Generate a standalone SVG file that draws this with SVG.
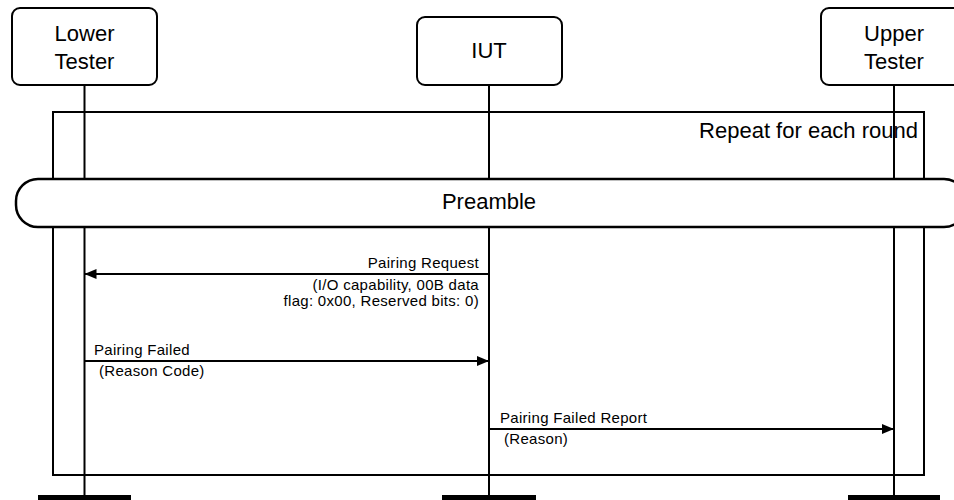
<svg xmlns="http://www.w3.org/2000/svg" width="954" height="500" viewBox="0 0 954 500">
<defs>
<style>
.box{fill:#fff;stroke:#000;stroke-width:2}
.ll{stroke:#000;stroke-width:2;fill:none}
.big{font-family:"Liberation Sans",Arial,sans-serif;font-size:22px;fill:#000}
.sm{font-family:"Liberation Sans",Arial,sans-serif;font-size:15px;letter-spacing:0.3px;fill:#000}
.msg{stroke:#000;stroke-width:2;fill:none}
</style>
<marker id="ah" viewBox="0 0 12 10" refX="12" refY="5" markerWidth="12" markerHeight="10" markerUnits="userSpaceOnUse" orient="auto">
<path d="M0,0 L12,5 L0,10 Z" fill="#000"/>
</marker>
</defs>
<rect width="954" height="500" fill="#fff"/>
<g id="frame">
<rect x="53" y="112" width="871" height="363" fill="none" stroke="#000" stroke-width="2"/>
<text class="big" x="918" y="138" text-anchor="end" font-size="24">Repeat for each round</text>
</g>
<g id="lifelines">
<line class="ll" x1="84.5" y1="85" x2="84.5" y2="500"/>
<line class="ll" x1="489" y1="85" x2="489" y2="500"/>
<line class="ll" x1="894" y1="85" x2="894" y2="500"/>
<rect x="38" y="495" width="93" height="5" fill="#000"/>
<rect x="442" y="495" width="94" height="5" fill="#000"/>
<rect x="848" y="495" width="92" height="5" fill="#000"/>
</g>
<g id="lower-tester">
<rect class="box" x="12" y="8" width="145" height="77" rx="8"/>
<text class="big" x="84.5" y="41" text-anchor="middle">Lower</text>
<text class="big" x="84.5" y="69" text-anchor="middle">Tester</text>
</g>
<g id="iut">
<rect class="box" x="417" y="17" width="145" height="68" rx="8"/>
<text class="big" x="489" y="58" text-anchor="middle">IUT</text>
</g>
<g id="upper-tester">
<rect class="box" x="821" y="8" width="145" height="77" rx="8"/>
<text class="big" x="894" y="41" text-anchor="middle">Upper</text>
<text class="big" x="894" y="69" text-anchor="middle">Tester</text>
</g>
<g id="preamble">
<rect x="16" y="179" width="950" height="48" rx="22" fill="#fff" stroke="#000" stroke-width="2.5"/>
<text class="big" x="489" y="209" text-anchor="middle">Preamble</text>
</g>
<g id="connectors">
<line class="msg" x1="489" y1="274" x2="84.5" y2="274" marker-end="url(#ah)"/>
<text class="sm" x="479" y="268" text-anchor="end">Pairing Request</text>
<text class="sm" x="479" y="290" text-anchor="end">(I/O capability, 00B data</text>
<text class="sm" x="479" y="306" text-anchor="end">flag: 0x00, Reserved bits: 0)</text>
<line class="msg" x1="84.5" y1="361" x2="489" y2="361" marker-end="url(#ah)"/>
<text class="sm" x="94" y="355">Pairing Failed</text>
<text class="sm" x="99" y="376">(Reason Code)</text>
<line class="msg" x1="489" y1="429" x2="894" y2="429" marker-end="url(#ah)"/>
<text class="sm" x="500" y="423">Pairing Failed Report</text>
<text class="sm" x="504" y="444">(Reason)</text>
</g>
</svg>
